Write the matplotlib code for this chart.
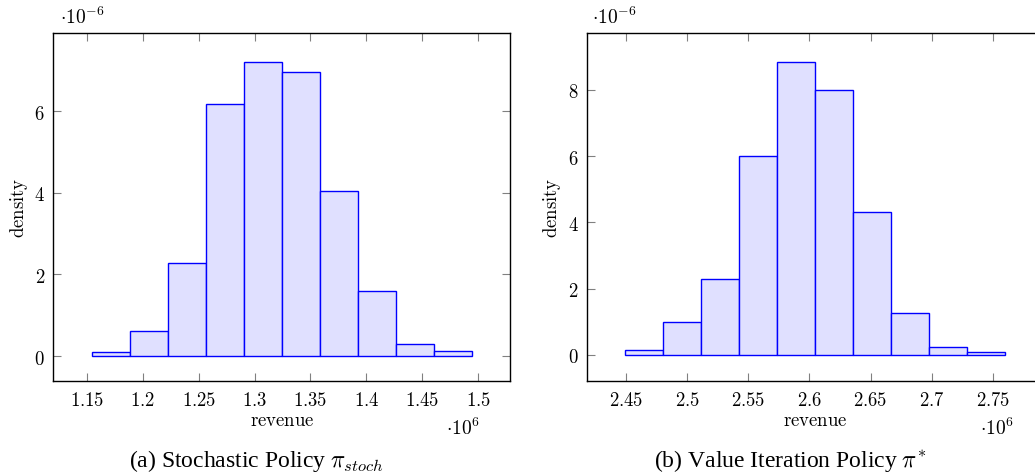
import numpy as np
import matplotlib
matplotlib.use("Agg")
import matplotlib.pyplot as plt

# revenue histograms (x in units of 1e6, density in units of 1e-6)
stoch_edges = [1.1542, 1.1882, 1.2223, 1.2563, 1.2904, 1.3244,
               1.3585, 1.3925, 1.4266, 1.4606, 1.4946]
stoch_density = [0.09, 0.62, 2.29, 6.17, 7.20, 6.96, 4.05, 1.59, 0.29, 0.115]

vi_edges = [2.4489, 2.4800, 2.5112, 2.5423, 2.5735, 2.6046,
            2.6358, 2.6669, 2.6981, 2.7292, 2.7604]
vi_density = [0.16, 0.98, 2.28, 6.01, 8.84, 8.00, 4.30, 1.26, 0.25, 0.07]

stoch_xticks = [1.15, 1.2, 1.25, 1.3, 1.35, 1.4, 1.45, 1.5]
stoch_xlabels = ["1.15", "1.2", "1.25", "1.3", "1.35", "1.4", "1.45", "1.5"]
stoch_yticks = [0, 2, 4, 6]
vi_xticks = [2.45, 2.5, 2.55, 2.6, 2.65, 2.7, 2.75]
vi_xlabels = ["2.45", "2.5", "2.55", "2.6", "2.65", "2.7", "2.75"]
vi_yticks = [0, 2, 4, 6, 8]

plt.rcParams['mathtext.fontset'] = 'cm'

W, H = 1035, 477
fig = plt.figure(figsize=(W / 100, H / 100), dpi=100)


def draw_panel(rect, edges, dens, xticks, xlabels, yticks, xlim, ylim):
    ax = fig.add_axes(rect)
    edges = np.array(edges)
    ax.bar(edges[:-1], dens, width=np.diff(edges), align='edge',
           color='#e0e0ff', edgecolor='#0000ff', linewidth=1.0)
    ax.set_xlim(*xlim)
    ax.set_ylim(*ylim)
    ax.set_xticks(xticks)
    ax.set_xticklabels(["$%s$" % s for s in xlabels])
    ax.set_yticks(yticks)
    ax.set_yticklabels(["$%d$" % v for v in yticks])
    ax.tick_params(direction='in', length=5.5, width=0.8, color='#808080',
                   top=True, right=True, labelsize=13.5, pad=6)
    for sp in ax.spines.values():
        sp.set_linewidth(1.0)
    ax.set_xlabel("$\\mathrm{revenue}$", fontsize=13.5, labelpad=1)
    ax.set_ylabel("$\\mathrm{density}$", fontsize=13.5, labelpad=3)
    return ax


ax1 = draw_panel([53.3 / W, (H - 382.3) / H, 457 / W, 348.3 / H],
                 stoch_edges, stoch_density, stoch_xticks, stoch_xlabels,
                 stoch_yticks, (1.1199, 1.5289), (-0.62, 7.92))
ax2 = draw_panel([586.7 / W, (H - 382.3) / H, 457 / W, 348.3 / H],
                 vi_edges, vi_density, vi_xticks, vi_xlabels,
                 vi_yticks, (2.4178, 2.7917), (-0.80, 9.72))

# scale factors
fig.text(82 / W, 1 - 17 / H, "$\\cdot 10^{-6}$", fontsize=14, ha='center', va='center')
fig.text(463 / W, 1 - 428 / H, "$\\cdot 10^{6}$", fontsize=14, ha='center', va='center')
fig.text(614 / W, 1 - 17 / H, "$\\cdot 10^{-6}$", fontsize=14, ha='center', va='center')
fig.text(997 / W, 1 - 428 / H, "$\\cdot 10^{6}$", fontsize=14, ha='center', va='center')

# captions
fig.text(256 / W, 1 - 461 / H, "(a) Stochastic Policy $\\pi_{stoch}$",
         fontsize=17, family='Liberation Serif', ha='center', va='center')
fig.text(790 / W, 1 - 461 / H, "(b) Value Iteration Policy $\\pi^{*}$",
         fontsize=17, family='Liberation Serif', ha='center', va='center')

fig.savefig("out.png", dpi=100)
